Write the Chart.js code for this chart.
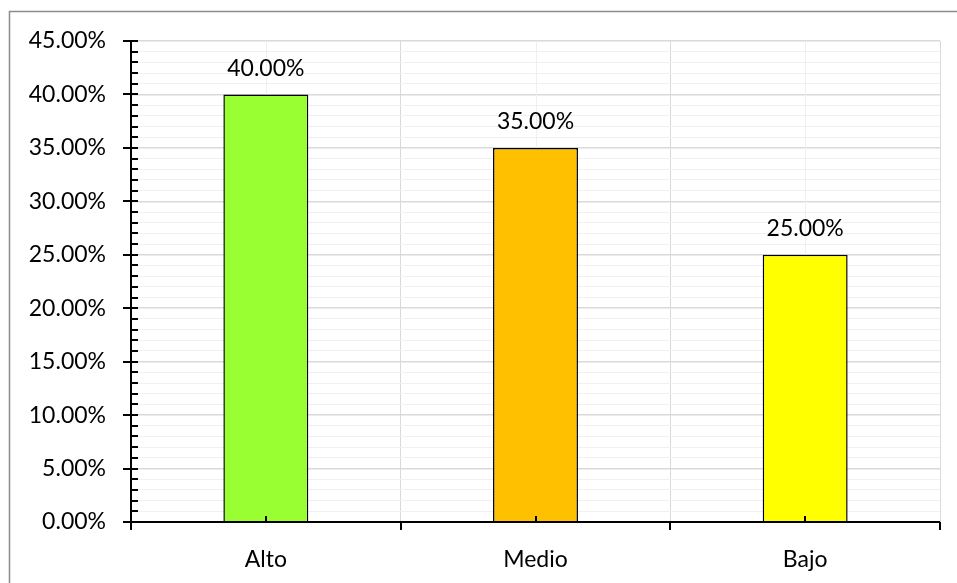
<!DOCTYPE html>
<html lang="es">
<head>
  <meta charset="UTF-8">
  <title>Nivel</title>
  <script src="https://cdn.jsdelivr.net/npm/chart.js"></script>
  <style>
    html, body { margin: 0; padding: 0; background: #fff; }
    #wrap { width: 957px; height: 583px; position: relative; }
  </style>
</head>
<body>
  <div id="wrap"><canvas id="nivelChart"></canvas></div>
  <script>
    // data
    const categories = ['Alto', 'Medio', 'Bajo'];
    const values = [0.40, 0.35, 0.25];
    const barColors = ['#99FF33', '#FFC000', '#FFFF00'];
    const yMax = 0.45;

    const FONT = 'Lato, "Open Sans", sans-serif';
    const pct = v => (v * 100).toFixed(2) + '%';
    const isMajor = v => Math.round(v * 100) % 5 === 0;

    // outer frame, extra grid lines, axes, tick marks and value labels
    const excelLook = {
      id: 'excelLook',
      beforeDraw(chart) {
        const c = chart.ctx;
        c.save();
        c.fillStyle = '#fff';
        c.fillRect(0, 0, chart.width, chart.height);
        c.strokeStyle = '#8c8c8c';
        c.lineWidth = 1.5;
        c.beginPath();
        c.moveTo(9.5, chart.height);
        c.lineTo(9.5, 11.5);
        c.lineTo(chart.width, 11.5);
        c.stroke();
        c.restore();
      },
      beforeDatasetsDraw(chart) {
        const c = chart.ctx, x = chart.scales.x, a = chart.chartArea;
        c.save();
        c.strokeStyle = '#efefef';
        c.lineWidth = 1;
        categories.forEach((_, i) => {
          const px = Math.round(x.getPixelForValue(i)) + 0.5;
          c.beginPath();
          c.moveTo(px, a.top);
          c.lineTo(px, a.bottom);
          c.stroke();
        });
        c.restore();
      },
      afterDatasetsDraw(chart) {
        const c = chart.ctx, x = chart.scales.x, y = chart.scales.y, a = chart.chartArea;
        c.save();
        c.strokeStyle = '#000';
        c.lineWidth = 2;
        // axes
        c.beginPath();
        c.moveTo(a.left, a.top);
        c.lineTo(a.left, a.bottom);
        c.moveTo(a.left, a.bottom);
        c.lineTo(a.right, a.bottom);
        c.stroke();
        // y tick marks
        y.ticks.forEach(t => {
          const py = Math.round(y.getPixelForValue(t.value));
          c.beginPath();
          c.moveTo(isMajor(t.value) ? a.left - 8 : a.left, py);
          c.lineTo(a.left + 7, py);
          c.stroke();
        });
        // x tick marks: boundaries outside, centres inside
        for (let i = 0; i <= categories.length; i++) {
          const px = Math.round(x.getPixelForValue(i - 0.5));
          c.beginPath();
          c.moveTo(px, a.bottom);
          c.lineTo(px, a.bottom + 8);
          c.stroke();
        }
        categories.forEach((_, i) => {
          const px = Math.round(x.getPixelForValue(i));
          c.beginPath();
          c.moveTo(px, a.bottom);
          c.lineTo(px, a.bottom - 6);
          c.stroke();
        });
        // value labels
        c.fillStyle = '#000';
        c.font = '23px ' + FONT;
        c.textAlign = 'center';
        c.textBaseline = 'middle';
        chart.getDatasetMeta(0).data.forEach((bar, i) => {
          c.fillText(pct(values[i]), bar.x, bar.y - 26);
        });
        c.restore();
      }
    };

    new Chart(document.getElementById('nivelChart'), {
      type: 'bar',
      data: {
        labels: categories,
        datasets: [{
          data: values,
          backgroundColor: barColors,
          borderColor: '#000',
          borderWidth: 1.5,
          barPercentage: 0.63,
          categoryPercentage: 0.5
        }]
      },
      options: {
        responsive: true,
        maintainAspectRatio: false,
        animation: false,
        layout: { padding: { top: 41, right: 17, left: 0, bottom: 0 } },
        plugins: { legend: { display: false }, tooltip: { enabled: false } },
        scales: {
          x: {
            afterFit: s => { s.height = 61; },
            grid: { offset: true, color: '#d9d9d9', drawTicks: false },
            border: { display: false },
            ticks: { color: '#000', padding: 24, font: { family: FONT, size: 23 } }
          },
          y: {
            min: 0,
            max: yMax,
            afterFit: s => { s.width = 131; },
            grid: {
              drawTicks: false,
              color: ctx => isMajor(ctx.tick.value) ? '#d9d9d9' : '#f0f0f0',
              lineWidth: ctx => isMajor(ctx.tick.value) ? 1.5 : 1
            },
            border: { display: false },
            ticks: {
              stepSize: 0.01,
              autoSkip: false,
              color: '#000',
              padding: 25,
              font: { family: FONT, size: 23 },
              callback: v => isMajor(v) ? pct(v) : ''
            }
          }
        }
      },
      plugins: [excelLook]
    });
  </script>
</body>
</html>
